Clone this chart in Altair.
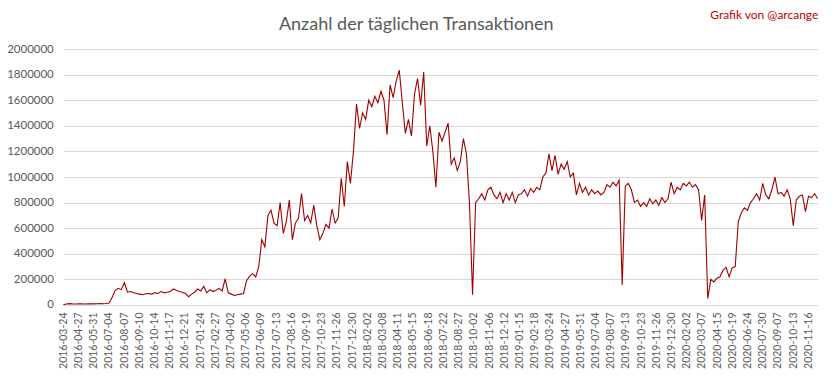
import altair as alt
import pandas as pd

title_text = "Anzahl der täglichen Transaktionen"
credit_text = "Grafik von @arcange"

tick_labels = [
    "2016-03-24", "2016-04-27", "2016-05-31", "2016-07-04", "2016-08-07", "2016-09-10",
    "2016-10-14", "2016-11-17", "2016-12-21", "2017-01-24", "2017-02-27", "2017-04-02",
    "2017-05-06", "2017-06-09", "2017-07-13", "2017-08-16", "2017-09-19", "2017-10-23",
    "2017-11-26", "2017-12-30", "2018-02-02", "2018-03-08", "2018-04-11", "2018-05-15",
    "2018-06-18", "2018-07-22", "2018-08-27", "2018-10-02", "2018-11-06", "2018-12-12",
    "2019-01-15", "2019-02-18", "2019-03-24", "2019-04-27", "2019-05-31", "2019-07-04",
    "2019-08-07", "2019-09-13", "2019-10-23", "2019-11-26", "2019-12-30", "2020-02-02",
    "2020-03-07", "2020-04-15", "2020-05-19", "2020-06-24", "2020-07-30", "2020-09-07",
    "2020-10-13", "2020-11-16",
]
label_step = 34          # one date label every 34 categories
sample_step = 6.83       # categories between two read-off values
y_ticks = [0, 200000, 400000, 600000, 800000, 1000000, 1200000, 1400000, 1600000, 1800000, 2000000]

values = [
    2000, 8000, 11000, 9000, 8000,
    9000, 10000, 8000, 9000, 10000,
    9000, 10000, 11000, 10000, 12000,
    15000, 60000, 115000, 130000, 120000,
    175000, 100000, 105000, 95000, 90000,
    85000, 80000, 88000, 90000, 85000,
    95000, 90000, 105000, 95000, 100000,
    105000, 125000, 115000, 105000, 100000,
    90000, 65000, 85000, 100000, 125000,
    110000, 145000, 95000, 120000, 105000,
    115000, 130000, 110000, 205000, 95000,
    85000, 75000, 80000, 85000, 90000,
    190000, 225000, 245000, 220000, 300000,
    510000, 455000, 700000, 740000, 640000,
    620000, 800000, 560000, 650000, 820000,
    510000, 640000, 680000, 870000, 660000,
    700000, 640000, 780000, 620000, 510000,
    560000, 630000, 600000, 750000, 640000,
    680000, 990000, 770000, 1120000, 950000,
    1200000, 1570000, 1380000, 1500000, 1450000,
    1600000, 1550000, 1630000, 1580000, 1670000,
    1600000, 1330000, 1720000, 1620000, 1750000,
    1835000, 1580000, 1340000, 1450000, 1320000,
    1650000, 1770000, 1560000, 1820000, 1240000,
    1400000, 1200000, 920000, 1350000, 1280000,
    1350000, 1420000, 1100000, 1150000, 1050000,
    1120000, 1300000, 1180000, 790000, 80000,
    800000, 830000, 870000, 820000, 900000,
    920000, 860000, 830000, 880000, 800000,
    870000, 820000, 880000, 800000, 860000,
    870000, 900000, 850000, 910000, 880000,
    920000, 900000, 1000000, 1030000, 1180000,
    1050000, 1170000, 1020000, 1100000, 1060000,
    1120000, 1000000, 1030000, 860000, 950000,
    880000, 920000, 860000, 900000, 870000,
    890000, 860000, 880000, 940000, 920000,
    960000, 930000, 975000, 156000, 930000,
    950000, 900000, 800000, 820000, 770000,
    800000, 770000, 830000, 790000, 820000,
    780000, 840000, 800000, 830000, 960000,
    870000, 920000, 900000, 950000, 930000,
    960000, 920000, 940000, 900000, 660000,
    860000, 50000, 200000, 180000, 210000,
    220000, 270000, 295000, 220000, 290000,
    300000, 650000, 720000, 760000, 740000,
    800000, 830000, 870000, 820000, 950000,
    860000, 830000, 900000, 1000000, 870000,
    880000, 850000, 900000, 830000, 620000,
    820000, 850000, 860000, 730000, 850000,
    840000, 870000, 830000,
]

df = pd.DataFrame({
    "kategorie": [i * sample_step for i in range(len(values))],
    "anzahl": values,
})
x_max = (len(values) - 1) * sample_step

label_expr = "[" + ",".join("'" + t + "'" for t in tick_labels) + "][round(datum.value / %d)]" % label_step

FONT = "Lato"
GREY = "#595959"

line = alt.Chart(df).mark_line(color="#A00000", strokeWidth=1.1).encode(
    x=alt.X(
        "kategorie:Q",
        scale=alt.Scale(domain=[0, x_max], nice=False, zero=False),
        axis=alt.Axis(
            values=[k * label_step for k in range(len(tick_labels))],
            labelExpr=label_expr,
            labelAngle=270,
            grid=False,
            ticks=False,
            domain=False,
            labelPadding=7,
            labelFontSize=10.5,
            labelColor=GREY,
            labelFont=FONT,
            labelOverlap=False,
            labelFlush=False,
            title=None,
        ),
    ),
    y=alt.Y(
        "anzahl:Q",
        scale=alt.Scale(domain=[0, 2000000], nice=False),
        axis=alt.Axis(
            values=y_ticks,
            format="d",
            grid=True,
            gridColor="#D9D9D9",
            gridWidth=1,
            ticks=False,
            domain=False,
            labelPadding=10,
            labelFontSize=11.5,
            labelColor=GREY,
            labelFont=FONT,
            title=None,
        ),
    ),
)

texts = pd.DataFrame({"t": [title_text, credit_text]})

title = alt.Chart(texts).transform_filter(alt.datum.t == title_text).mark_text(
    align="center", baseline="alphabetic", color=GREY, fontSize=18, font=FONT
).encode(text="t:N", x=alt.value(353), y=alt.value(-19.5))

credit = alt.Chart(texts).transform_filter(alt.datum.t == credit_text).mark_text(
    align="right", baseline="alphabetic", color="#C00000", fontSize=12, font=FONT
).encode(text="t:N", x=alt.value(755), y=alt.value(-30))

chart = alt.layer(line, title, credit).properties(
    width=754.4,
    height=256,
    autosize=alt.AutoSizeParams(type="none"),
    padding={"left": 55.3, "top": 41, "right": 7, "bottom": 66},
).configure_view(stroke=None)

chart.save("out.html", embed_options={"renderer": "svg", "actions": False})
